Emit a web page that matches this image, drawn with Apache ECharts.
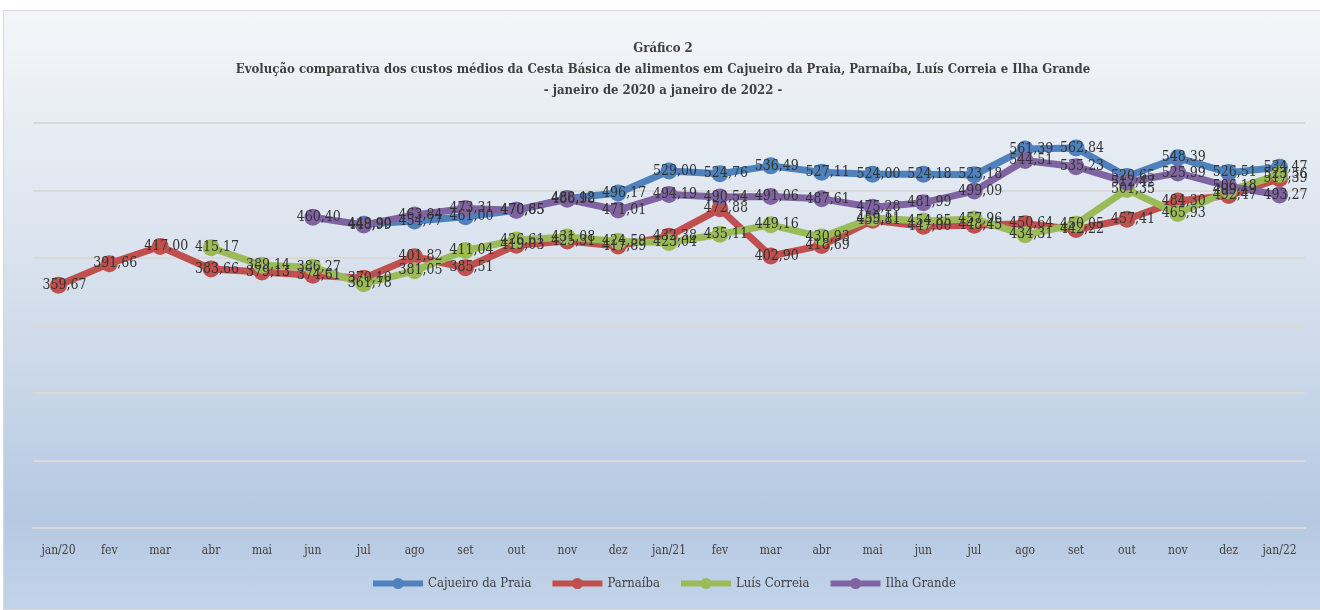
<!DOCTYPE html>
<html>
<head>
<meta charset="utf-8">
<script src="https://cdn.jsdelivr.net/npm/echarts@6/dist/echarts.min.js"></script>
<style>
  html, body { margin: 0; padding: 0; background: #fff; }
  #wrap {
    position: absolute; left: 3px; top: 10px; width: 1320px; height: 600px;
    border: 1px solid #d9d9d9; box-sizing: border-box;
    background: linear-gradient(to bottom, #f4f6f9 0%, #e4eaf2 25%, #cfdbea 55%, #b5c9e2 85%, #c3d4e9 100%);
  }
  #mychart { width: 100%; height: 100%; }
</style>
</head>
<body>
<div id="wrap"><div id="mychart"></div></div>
<script>
// categorias (meses)
const months = ["jan/20", "fev", "mar", "abr", "mai", "jun", "jul", "ago", "set", "out", "nov", "dez",
  "jan/21", "fev", "mar", "abr", "mai", "jun", "jul", "ago", "set", "out", "nov", "dez", "jan/22"];

// custos médios por cidade (null = sem dado)
const cajueiro = [null, null, null, null, null, null, 449.90, 454.77, 461.00, 470.65, 488.12, 496.17,
  529.00, 524.76, 536.49, 527.11, 524.00, 524.18, 523.18, 561.39, 562.84, 520.65, 548.39, 526.51, 534.47];
const parnaiba = [359.67, 391.66, 417.00, 383.66, 379.13, 374.61, 370.10, 401.82, 385.51, 419.03, 425.31, 417.89,
  432.38, 472.88, 402.90, 418.69, 455.81, 447.00, 448.45, 450.64, 442.22, 457.41, 484.30, 492.47, 517.39];
const luisCorreia = [null, null, null, 415.17, 389.14, 386.27, 361.78, 381.05, 411.04, 426.61, 431.08, 424.59,
  423.04, 435.11, 449.16, 430.93, 459.11, 454.85, 457.96, 434.31, 450.05, 501.35, 465.93, 499.49, 523.56];
const ilhaGrande = [null, null, null, null, null, 460.40, 448.99, 463.84, 473.31, 470.85, 486.98, 471.01,
  494.19, 490.54, 491.06, 487.61, 475.28, 481.99, 499.09, 544.51, 535.23, 512.42, 525.99, 506.18, 493.27];

const fontNarrow = "'DejaVu Serif Condensed', 'Liberation Sans Narrow', serif";

function serie(name, data, color) {
  return {
    name: name,
    type: "line",
    data: data,
    symbol: "circle",
    symbolSize: 17,
    lineStyle: { width: 7, color: color },
    itemStyle: { color: color },
    label: {
      show: true,
      position: "inside",
      offset: [6, 0],
      color: "#333333",
      fontFamily: fontNarrow,
      fontSize: 14,
      formatter: p => p.value == null ? "" : p.value.toFixed(2).replace(".", ",")
    }
  };
}

const myChart = echarts.init(document.getElementById("mychart"));
const option = {
  backgroundColor: "transparent",
  animation: false,
  title: {
    text: "Gráfico 2\nEvolução comparativa dos custos médios da Cesta Básica de alimentos em Cajueiro da Praia, Parnaíba, Luís Correia e Ilha Grande\n- janeiro de 2020 a janeiro de 2022 -",
    left: "center",
    top: 22,
    textStyle: {
      fontFamily: fontNarrow,
      fontSize: 13,
      fontWeight: "bold",
      color: "#404040",
      lineHeight: 21,
      align: "center"
    }
  },
  legend: {
    bottom: 14,
    left: "center",
    itemWidth: 50,
    itemHeight: 14,
    itemGap: 18,
    lineStyle: { width: 6 },
    textStyle: { fontFamily: fontNarrow, fontSize: 13, color: "#404040" },
    data: ["Cajueiro da Praia", "Parnaíba", "Luís Correia", "Ilha Grande"]
  },
  grid: { left: 29, right: 17, top: 112, bottom: 81 },
  xAxis: {
    type: "category",
    data: months,
    boundaryGap: true,
    axisLine: { show: true, lineStyle: { color: "#d9d9d9", width: 2 } },
    axisTick: { show: false },
    axisLabel: { color: "#404040", fontFamily: fontNarrow, fontSize: 12, margin: 17 }
  },
  yAxis: {
    type: "value",
    min: 0,
    max: 600,
    interval: 100,
    axisLabel: { show: false },
    axisLine: { show: false },
    axisTick: { show: false },
    splitLine: { lineStyle: { color: "#d9d9d9", width: 2 } }
  },
  series: [
    serie("Cajueiro da Praia", cajueiro, "#4f81bd"),
    serie("Parnaíba", parnaiba, "#c0504d"),
    serie("Luís Correia", luisCorreia, "#9bbb59"),
    serie("Ilha Grande", ilhaGrande, "#8064a2")
  ]
};
myChart.setOption(option);
window.addEventListener("resize", () => {
  myChart.resize();
});
</script>
</body>
</html>
